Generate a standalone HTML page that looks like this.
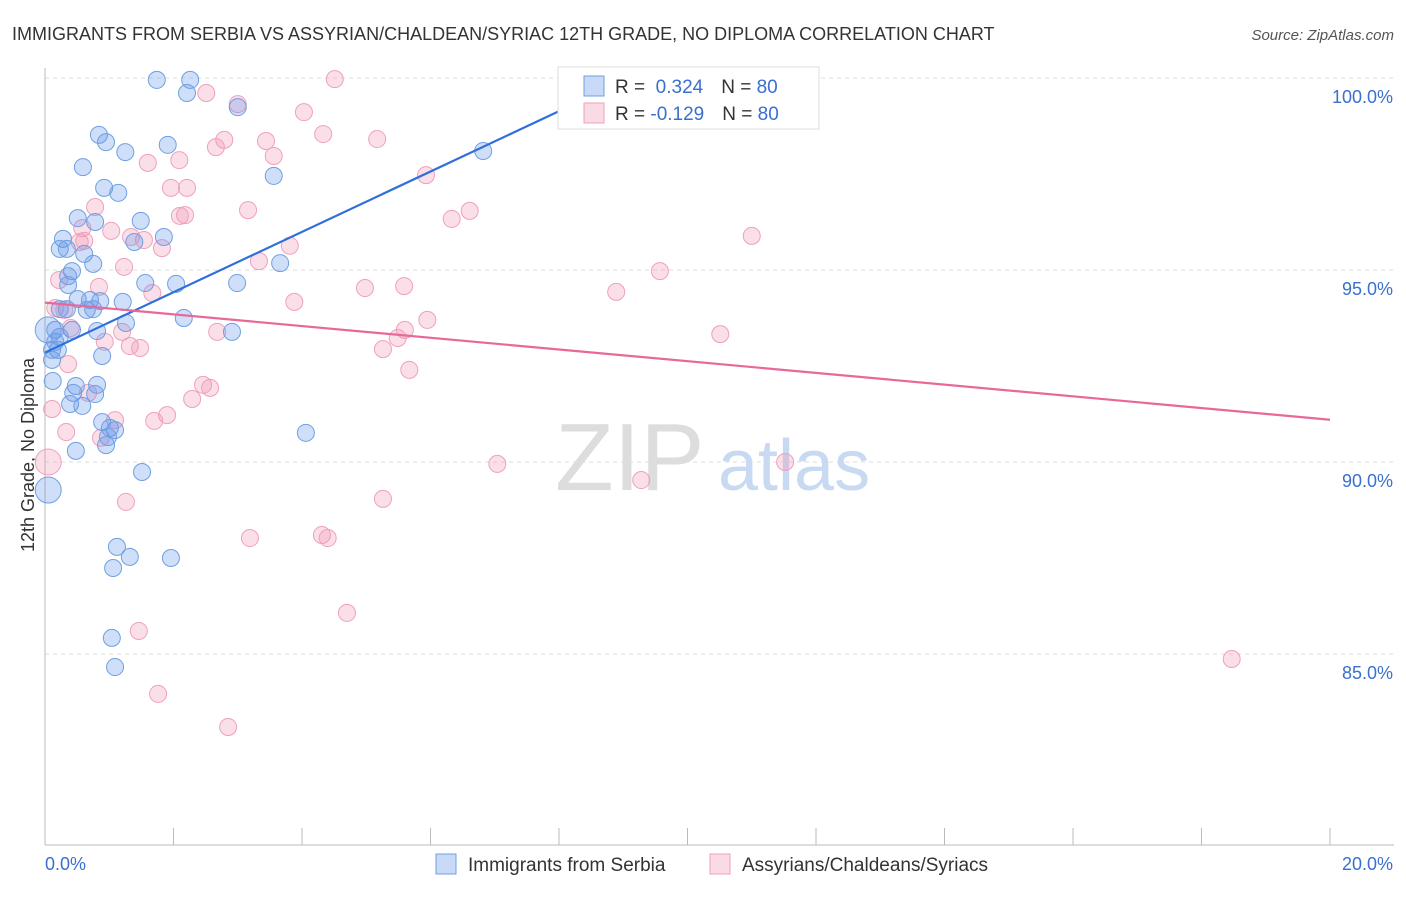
<!DOCTYPE html>
<html><head><meta charset="utf-8"><style>
body{margin:0;background:#fff;font-family:"Liberation Sans",sans-serif}
svg text{font-family:"Liberation Sans",sans-serif}
</style></head><body>
<svg id="c" width="1406" height="892" xmlns="http://www.w3.org/2000/svg">
<text x="12" y="40" font-size="18" fill="#333">IMMIGRANTS FROM SERBIA VS ASSYRIAN/CHALDEAN/SYRIAC 12TH GRADE, NO DIPLOMA CORRELATION CHART</text>
<text x="1394" y="40" font-size="15" fill="#555" font-style="italic" text-anchor="end">Source: ZipAtlas.com</text>
<text x="34" y="455" font-size="18" fill="#333" text-anchor="middle" transform="rotate(-90 34 455)">12th Grade, No Diploma</text>
<g id="grid"></g>
<g id="axes"></g>
<text x="555" y="490" font-size="96" fill="#ddd" font-family="Liberation Serif">ZIP</text>
<text x="718" y="490" font-size="72" fill="#c8daf2">atlas</text>
<g id="pts"></g>
<g id="lines"></g>
<g>
<rect x="558" y="67" width="261" height="62" fill="#fff" stroke="#ddd"/>
<rect x="584" y="76" width="20" height="20" fill="rgba(100,150,235,0.35)" stroke="#6fa0e0"/>
<rect x="584" y="103" width="20" height="20" fill="rgba(240,150,180,0.35)" stroke="#f0a0bc"/>
<text x="615" y="93" font-size="19" fill="#333">R = <tspan fill="#3a6fd0">&#160;0.324</tspan><tspan dx="18">N = </tspan><tspan fill="#3a6fd0">80</tspan></text>
<text x="615" y="120" font-size="19" fill="#333">R = <tspan fill="#3a6fd0">-0.129</tspan><tspan dx="18">N = </tspan><tspan fill="#3a6fd0">80</tspan></text>
</g>
<g>
<rect x="436" y="854" width="20" height="20" fill="rgba(100,150,235,0.35)" stroke="#6fa0e0"/>
<text x="468" y="871" font-size="19" fill="#333">Immigrants from Serbia</text>
<rect x="710" y="854" width="20" height="20" fill="rgba(240,150,180,0.35)" stroke="#f0a0bc"/>
<text x="742" y="871" font-size="19" fill="#333">Assyrians/Chaldeans/Syriacs</text>
</g>
</svg>
<script>
const blueX=[1.74,2.26,2.21,3.00,0.84,0.95,1.25,1.91,0.59,0.92,1.14,3.56,6.82,0.51,0.78,1.49,0.28,0.23,0.34,1.39,1.85,0.61,0.75,0.42,0.36,1.56,2.04,2.99,3.66,0.36,0.51,0.70,0.86,1.21,0.23,0.34,0.65,0.75,0.16,0.42,0.81,1.26,2.16,2.91,0.16,0.23,0.20,0.89,0.11,0.12,0.48,0.81,0.44,0.78,0.39,0.58,0.89,1.01,1.09,0.98,0.95,0.48,4.06,1.51,0.05,1.12,1.32,1.06,1.96,1.04,1.09,0.05,0.11,8.48];
const blueY=[99.95,99.95,99.61,99.24,98.52,98.33,98.07,98.26,97.68,97.14,97.01,97.45,98.10,96.35,96.25,96.28,95.81,95.55,95.55,95.73,95.86,95.42,95.16,94.97,94.84,94.66,94.64,94.66,95.18,94.61,94.24,94.22,94.19,94.17,93.98,93.98,93.96,93.98,93.44,93.44,93.41,93.62,93.75,93.39,93.13,93.26,92.92,92.76,92.66,92.11,91.98,92.01,91.80,91.77,91.51,91.46,91.04,90.89,90.83,90.65,90.44,90.29,90.76,89.74,89.27,87.79,87.53,87.24,87.50,85.42,84.66,93.44,92.92,99.95];
const pinkX=[4.51,2.51,3.00,4.03,2.79,2.66,3.44,4.33,5.17,3.56,1.60,2.09,1.96,2.21,5.93,0.78,0.58,1.03,0.54,0.61,1.54,1.82,2.18,2.10,3.16,1.34,6.61,6.33,11.00,9.57,1.23,3.33,3.81,0.84,1.67,3.88,4.98,5.59,8.89,0.16,0.30,0.40,1.20,2.68,5.60,5.95,5.49,5.26,1.32,1.48,10.51,5.67,0.36,2.46,2.57,2.29,0.67,0.11,1.90,1.70,1.09,0.87,0.33,0.05,7.04,9.28,11.52,1.26,5.26,3.19,4.31,4.40,4.70,1.46,1.76,2.85,18.47,0.22,0.93];
const pinkY=[99.97,99.61,99.32,99.11,98.39,98.20,98.36,98.54,98.41,97.97,97.79,97.86,97.14,97.14,97.47,96.64,96.09,96.02,95.73,95.76,95.78,95.57,96.43,96.41,96.56,95.86,96.54,96.33,95.89,94.97,95.08,95.23,95.63,94.56,94.40,94.17,94.53,94.58,94.43,94.01,93.96,93.49,93.39,93.39,93.44,93.70,93.23,92.94,93.02,92.97,93.33,92.40,92.55,92.01,91.93,91.64,91.80,91.38,91.22,91.07,91.09,90.63,90.78,90.00,89.95,89.53,90.00,88.96,89.04,88.02,88.10,88.02,86.07,85.60,83.96,83.10,84.87,94.74,93.13];
const yTicks=[100,95,90,85];
const yTickLabels=["100.0%","95.0%","90.0%","85.0%"];
const xTickLabels=["0.0%","20.0%"];
const blueLine=[[0,92.85],[9.1,100]];
const pinkLine=[[0,94.15],[20,91.1]];
const X=v=>45+v/20*1285, Y=v=>78+(100-v)*38.4;
const NS="http://www.w3.org/2000/svg";
function mk(t,a,p){const e=document.createElementNS(NS,t);for(const k in a)e.setAttribute(k,a[k]);p.appendChild(e);return e;}
const grid=document.getElementById('grid'),axes=document.getElementById('axes'),pts=document.getElementById('pts'),lines=document.getElementById('lines');
yTicks.forEach((t,i)=>{
 const l=mk('line',{x1:45,x2:1394,y1:Y(t),y2:Y(t),stroke:'#ddd','stroke-dasharray':'4,4'},grid);
 
 
 const tx=mk('text',{x:1393,y:Y(t)+25,'font-size':18,fill:'#3a6fd0','text-anchor':'end'},axes);
 tx.textContent=yTickLabels[i];
 
 
});
mk('line',{x1:45,x2:45,y1:68,y2:845,stroke:'#bbb'},axes);
mk('line',{x1:45,x2:1394,y1:845,y2:845,stroke:'#bbb'},axes);
for(let i=0;i<=10;i++){const l=mk('line',{x1:X(i*2),x2:X(i*2),y1:828,y2:845,stroke:'#bbb'},axes);
 
 }
[[0,'start',45],[1,'end',1393]].forEach(([i,a,x])=>{const t=mk('text',{x:x,y:870,'font-size':18,fill:'#3a6fd0','text-anchor':a},axes);t.textContent=xTickLabels[i];
 
 });
function dots(xs,ys,fill,stroke,name){xs.forEach((x,i)=>{const r=(x<0.08)?13:8.5;
 const c=mk('circle',{cx:X(x),cy:Y(ys[i]),r:r,fill:fill,stroke:stroke,'stroke-width':1},pts);
 
 });}
dots(pinkX,pinkY,'rgba(240,150,180,0.3)','#f0a0bc','point-assyrian');
dots(blueX,blueY,'rgba(100,150,235,0.3)','#6fa0e0','point-serbia');
const bl=mk('line',{x1:X(blueLine[0][0]),y1:Y(blueLine[0][1]),x2:X(blueLine[1][0]),y2:Y(blueLine[1][1]),stroke:'#2f6fdc','stroke-width':2.2},lines);


const pl=mk('line',{x1:X(pinkLine[0][0]),y1:Y(pinkLine[0][1]),x2:X(pinkLine[1][0]),y2:Y(pinkLine[1][1]),stroke:'#e8689a','stroke-width':2.2},lines);


</script>
</body></html>
